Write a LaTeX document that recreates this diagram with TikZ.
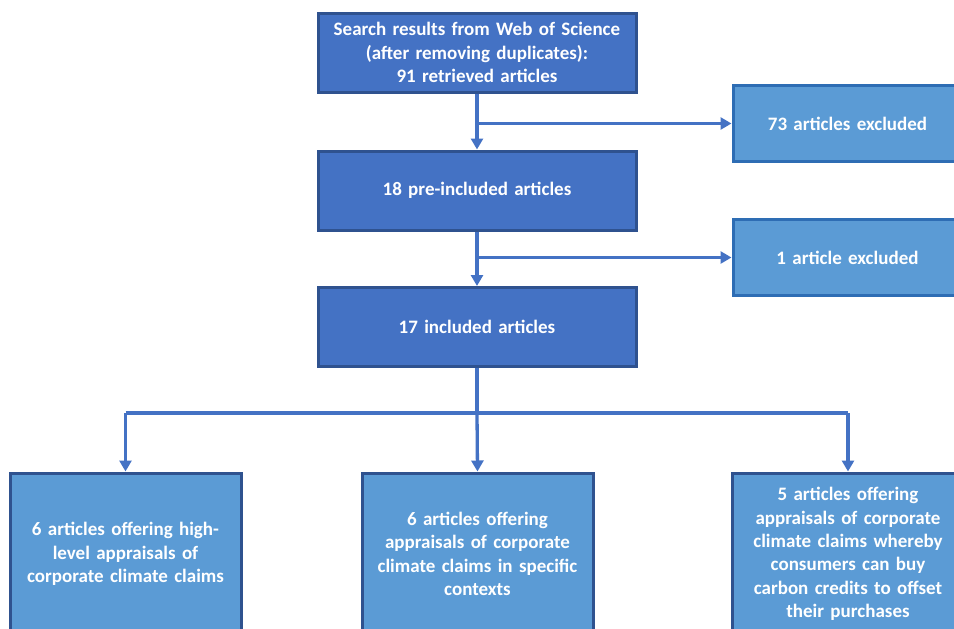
\documentclass[tikz,border=0pt]{standalone}
\usepackage{fontspec}
\setmainfont{Carlito}
\usetikzlibrary{arrows.meta}
\definecolor{darkfill}{HTML}{4472C4}
\definecolor{darkedge}{HTML}{2F528F}
\definecolor{lightfill}{HTML}{5B9BD5}
\definecolor{lightedge}{HTML}{2E6DB4}
\definecolor{arrowcol}{HTML}{4472C4}
\tikzset{
  basebox/.style={rectangle, inner sep=4pt, align=center, text=white,
    font=\fontsize{19}{23.3}\selectfont\bfseries, line width=3pt},
  darkbox/.style={basebox, fill=darkfill, draw=darkedge,
    minimum width=318pt, minimum height=79pt, text width=305pt},
  lightbox/.style={basebox, fill=lightfill, draw=lightedge,
    minimum width=229pt, minimum height=76pt, text width=220pt},
  bottombox/.style={basebox, fill=lightfill, draw=darkedge,
    minimum width=231pt, minimum height=162pt, text width=222pt},
  conn/.style={draw=arrowcol, line width=3.3pt},
  arr/.style={conn, -{Triangle[length=11pt,width=12pt]}}
}
\begin{document}
\begin{tikzpicture}[x=1pt,y=-1pt]
\useasboundingbox (0,0) rectangle (954,629);
\clip (0,0) rectangle (954,629);
\node[darkbox] (n1) at (477,52.5) {Search results from Web of Science\\(after removing duplicates):\\91 retrieved articles};
\node[darkbox] (n2) at (477,190.5) {18 pre-included articles};
\node[darkbox] (n3) at (477,327) {17 included articles};
\node[lightbox] (e1) at (847.5,123.5) {73 articles excluded};
\node[lightbox] (e2) at (847.5,257.5) {1 article excluded};
\node[bottombox] (b1) at (125.5,554) {6 articles offering high-\\level appraisals of\\corporate climate claims};
\node[bottombox] (b2) at (477.5,554) {6 articles offering\\appraisals of corporate\\climate claims in specific\\contexts};
\node[bottombox] (b3) at (848,554) {5 articles offering\\appraisals of corporate\\climate claims whereby\\consumers can buy\\carbon credits to offset\\their purchases};
\draw[arr] (n1.south) -- (n2.north);
\coordinate (s1) at (n1.south |- e1.west);
\draw[arr] (s1) -- (e1.west);
\draw[arr] (n2.south) -- (n3.north);
\coordinate (s2) at (n2.south |- e2.west);
\draw[arr] (s2) -- (e2.west);
\coordinate (j) at (477,413);
\draw[conn] (n3.south) -- (j);
\draw[conn] (j -| b1.north) -- (j -| b3.north);
\draw[arr] (j -| b1.north) -- (b1.north);
\draw[arr] (j) -- (b2.north);
\draw[arr] (j -| b3.north) -- (b3.north);
\end{tikzpicture}
\end{document}
